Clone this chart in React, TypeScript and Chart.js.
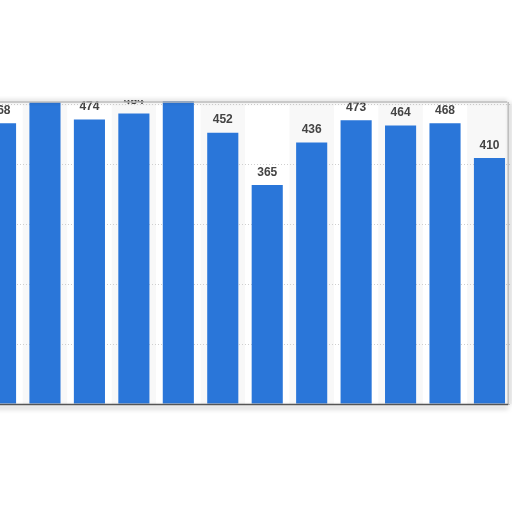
import { useRef, useEffect } from "react"
import { Chart, registerables } from "chart.js"

Chart.register(...registerables)

// values; bars 2, 4 and 5 run into the top of the frame
const categories = ["1", "2", "3", "4", "5", "6", "7", "8", "9", "10", "11", "12"]
const values = [468, 503, 474, 484, 510, 452, 365, 436, 473, 464, 468, 410]
const yTicks = [0, 100, 200, 300, 400, 500]

const BAR_COLOR = "#2a76d9"
const LABEL_COLOR = "#444444"

const bandsPlugin = {
  id: "bands",
  beforeDraw(chart: any) {
    const { ctx, chartArea, scales } = chart
    const x = scales.x
    const step = x.getPixelForValue(1) - x.getPixelForValue(0)
    ctx.save()
    ctx.fillStyle = "#f8f8f8"
    categories.forEach((_, i) => {
      if (i % 2 === 1) {
        ctx.fillRect(x.getPixelForValue(i) - step / 2, chartArea.top, step, chartArea.bottom - chartArea.top)
      }
    })
    ctx.restore()
  },
}

const labelsPlugin = {
  id: "barLabels",
  afterDatasetsDraw(chart: any) {
    const { ctx, chartArea } = chart
    const meta = chart.getDatasetMeta(0)
    ctx.save()
    ctx.beginPath()
    ctx.rect(chartArea.left, chartArea.top - 4, chartArea.right - chartArea.left, chartArea.bottom - chartArea.top + 4)
    ctx.clip()
    ctx.font = "bold 12px 'Liberation Sans', Arial, sans-serif"
    ctx.fillStyle = LABEL_COLOR
    ctx.textAlign = "center"
    ctx.textBaseline = "alphabetic"
    meta.data.forEach((bar: any, i: number) => {
      ctx.fillText(String(values[i]), bar.x, bar.y - 9.5)
    })
    ctx.restore()
  },
}

const framePlugin = {
  id: "frame",
  afterDraw(chart: any) {
    const { ctx, chartArea } = chart
    const { left, top, bottom } = chartArea
    const right = chartArea.right - 4.5
    ctx.save()
    ctx.lineCap = "butt"

    // top edge
    ctx.shadowColor = "rgba(0,0,0,0.3)"
    ctx.shadowBlur = 4
    ctx.shadowOffsetY = -1
    ctx.strokeStyle = "#bdbdbd"
    ctx.lineWidth = 1.5
    ctx.beginPath()
    ctx.moveTo(left, top - 2)
    ctx.lineTo(right, top - 2)
    ctx.stroke()

    // right edge
    ctx.shadowOffsetY = 0
    ctx.shadowOffsetX = 2
    ctx.strokeStyle = "#bdbdbd"
    ctx.beginPath()
    ctx.moveTo(right + 1, top - 2)
    ctx.lineTo(right + 1, bottom + 1)
    ctx.stroke()

    // bottom edge
    ctx.shadowOffsetX = 0
    ctx.shadowOffsetY = 3
    ctx.shadowBlur = 5
    ctx.shadowColor = "rgba(0,0,0,0.4)"
    ctx.strokeStyle = "#555555"
    ctx.lineWidth = 1.5
    ctx.beginPath()
    ctx.moveTo(left, bottom + 0.5)
    ctx.lineTo(right + 1, bottom + 0.5)
    ctx.stroke()
    ctx.restore()
  },
}

export default function App() {
  const canvasRef = useRef<HTMLCanvasElement>(null)
  const chartRef = useRef<Chart | null>(null)

  useEffect(() => {
    if (!canvasRef.current) return
    if (chartRef.current) chartRef.current.destroy()

    chartRef.current = new Chart(canvasRef.current, {
      type: "bar",
      data: {
        labels: categories,
        datasets: [
          {
            data: values,
            backgroundColor: BAR_COLOR,
            borderWidth: 0,
            barPercentage: 0.7,
            categoryPercentage: 1,
            clip: { left: 0, right: 0, bottom: 0, top: 3 } as any,
          },
        ],
      },
      options: {
        responsive: false,
        maintainAspectRatio: false,
        animation: false,
        layout: { padding: { left: 18.3, right: 8.3, top: 104, bottom: 108 } },
        plugins: {
          legend: { display: false },
          tooltip: { enabled: false },
        },
        scales: {
          x: { display: false },
          y: {
            min: yTicks[0],
            max: yTicks[yTicks.length - 1],
            afterBuildTicks: (axis: any) => {
              axis.ticks = yTicks.map((v) => ({ value: v }))
            },
            ticks: { display: false },
            border: { display: false, dash: [1, 2] },
            grid: { color: "#cfcfcf", drawTicks: false },
          },
        },
      },
      plugins: [bandsPlugin, labelsPlugin, framePlugin],
    })

    return () => {
      if (chartRef.current) chartRef.current.destroy()
    }
  }, [])

  return (
    <div style={{ position: "fixed", left: 0, top: 0, width: 512, height: 512, overflow: "hidden", background: "#fff" }}>
      <canvas
        ref={canvasRef}
        width={560}
        height={512}
        style={{ position: "absolute", left: -40, top: 0, width: 560, height: 512 }}
      />
    </div>
  )
}
